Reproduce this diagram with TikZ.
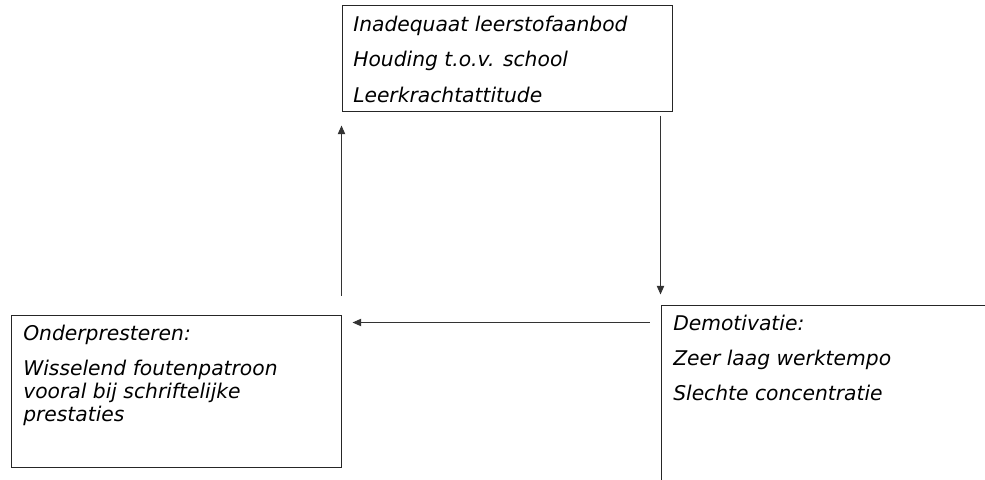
\documentclass[tikz,border=0pt]{standalone}
\usepackage{fontspec}
\setmainfont{DejaVu Sans}
\usetikzlibrary{arrows.meta,fit}
\begin{document}
\begin{tikzpicture}[x=0.75pt,y=-0.75pt,
  box/.style={draw=black!85, line width=0.75pt, inner sep=0pt},
  txt/.style={font=\itshape\fontsize{15.2}{18}\selectfont, anchor=base west, inner sep=0pt},
  arr/.style={-{Triangle[length=6.5pt,width=5.5pt]}, line width=0.75pt, draw=black!80}]
\path[use as bounding box] (0,0) rectangle (985,479);
\clip (0,0) rectangle (985,479);
% boxes
\node[box, fit={(342,5) (672,111)}] (top) {};
\node[box, fit={(11,315) (341,467)}] (left) {};
\node[box, fit={(661,305) (1000,500)}] (right) {};
% top box text
\node[txt] (t1) at (353,31) {Inadequaat leerstofaanbod};
\node[txt] (t2) at (353,66) {Houding t.o.v. school};
\node[txt] (t3) at (353,102) {Leerkrachtattitude};
% left box text
\node[txt] (l1) at (23,340) {Onderpresteren:};
\node[txt] (l2) at (23,375) {Wisselend foutenpatroon};
\node[txt] (l3) at (23,398) {vooral bij schriftelijke};
\node[txt] (l4) at (23,421) {prestaties};
% right box text
\node[txt] (r1) at (673,330) {Demotivatie:};
\node[txt] (r2) at (673,365) {Zeer laag werktempo};
\node[txt] (r3) at (673,400) {Slechte concentratie};
% arrows
\draw[arr, shorten <=14.25pt, shorten >=10.5pt] (left.north east) -- (left.north east |- top.south);
\draw[arr, shorten <=3pt, shorten >=7.5pt] (top.south -| right.north west) -- (right.north west);
\draw[arr, shorten <=8.25pt, shorten >=8.25pt] ([yshift=-13.5pt]right.north west) -- ([yshift=-13.5pt]right.north west -| left.east);
\end{tikzpicture}
\end{document}
